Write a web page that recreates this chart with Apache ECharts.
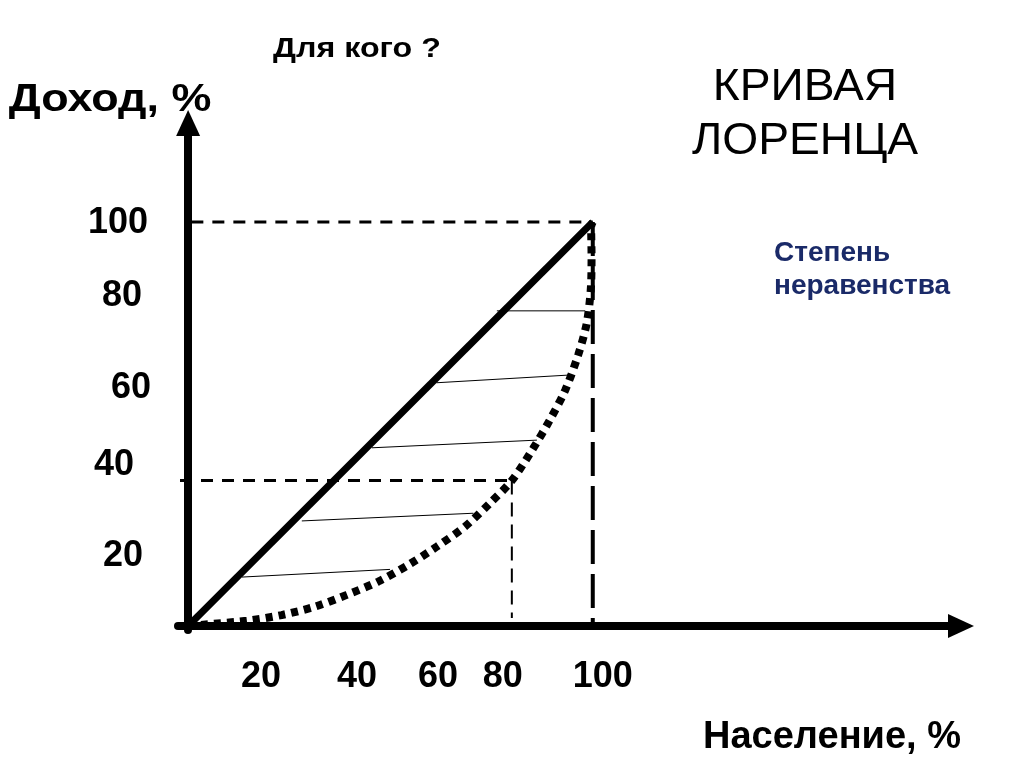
<!DOCTYPE html>
<html>
<head>
<meta charset="utf-8">
<script src="https://cdn.jsdelivr.net/npm/echarts@6/dist/echarts.min.js"></script>
<style>
  html, body { margin: 0; padding: 0; background: #fff; }
  #lorenz_chart { width: 1024px; height: 767px; }
</style>
</head>
<body>
<div id="lorenz_chart"></div>
<script>
// кривая Лоренца: доля населения (x) и доля дохода (y), %
var curve_x = [0, 14.5, 23.1, 31.4, 39.2, 47.0, 54.4, 61.4, 68.4, 74.6, 80.0, 85.3, 89.4, 93.2, 96.4, 98.5, 99.5, 99.7, 99.6, 100]
var curve_y = [0, 1.3, 2.7, 4.8, 7.7, 11.0, 15.1, 19.6, 24.6, 30.4, 36.0, 44.0, 51.0, 58.4, 67.1, 74.9, 83.2, 91.4, 98.8, 100]

// линия абсолютного равенства
var equal_x = [0, 100]
var equal_y = [0, 100]

// штриховка между диагональю и кривой
var hatch_x1 = [13.3, 28.1, 45.4, 61.4, 76.3]
var hatch_y1 = [12.1, 26.0, 44.1, 60.2, 78.0]
var hatch_x2 = [49.9, 70.5, 86.2, 94.0, 98.1]
var hatch_y2 = [14.0, 27.9, 46.0, 62.1, 78.0]

// отмеченная точка: 80% населения получают 36% дохода
var mark_x = 80
var mark_y = 36

var x_ticks = [20, 40, 60, 80, 100]
var y_ticks = [20, 40, 60, 80, 100]

var FONT = '"Liberation Sans", Arial, sans-serif'

function pairs(xs, ys) {
  return xs.map(function(x, i) { return [x, ys[i]] })
}

// сдвиг подписи через padding (на слайде цифры стоят "от руки")
function shift_pad(dx, dy) {
  return [dy > 0 ? 2 * dy : 0, dx < 0 ? -2 * dx : 0, dy < 0 ? -2 * dy : 0, dx > 0 ? 2 * dx : 0]
}

var x_label_shift = { 20: [-8, 0], 40: [7, 0], 60: [7, 0], 80: [-9, 0], 100: [10, 0] }
var y_label_shift = { 20: [3, 11], 40: [-6, 1], 60: [11, 5], 80: [2, -7], 100: [-2, 1] }

function label_rich(shift) {
  var rich = {}
  Object.keys(shift).forEach(function(k) {
    rich['t' + k] = {
      fontSize: 36,
      fontWeight: 'bold',
      fontFamily: FONT,
      color: '#000',
      padding: shift_pad(shift[k][0], shift[k][1])
    }
  })
  return rich
}

function seg(data, width, type, z) {
  return {
    type: 'line',
    data: data,
    symbol: 'none',
    silent: true,
    animation: false,
    z: z,
    lineStyle: { color: '#000', width: width, type: type, cap: 'butt' }
  }
}

var series = []
// пунктирные направляющие
series.push(seg([[0.8, 100], [100, 100]], 3, [12, 9], 2))
series.push(seg([[-2, mark_y], [mark_x, mark_y]], 3, [12, 9], 2))
series.push(seg([[mark_x, mark_y], [mark_x, 2]], 2, [14, 8], 2))
series.push(seg([[100, 100], [100, 0]], 4, [34, 10], 2))
// штриховка
hatch_x1.forEach(function(x, i) {
  series.push(seg([[x, hatch_y1[i]], [hatch_x2[i], hatch_y2[i]]], 1, 'solid', 3))
})
// диагональ
series.push(seg(pairs(equal_x, equal_y), 7, 'solid', 4))
// кривая Лоренца
var curve = seg(pairs(curve_x, curve_y), 8, [7, 6], 5)
curve.smooth = 0.3
series.push(curve)

var option = {
  backgroundColor: '#fff',
  animation: false,
  grid: { left: 178, right: 63, top: 123, bottom: 137 },
  xAxis: {
    type: 'value',
    min: -2.5,
    max: 191,
    axisLine: {
      onZero: true,
      symbol: ['none', 'triangle'],
      symbolSize: [24, 26],
      lineStyle: { color: '#000', width: 8 }
    },
    axisTick: { show: false },
    splitLine: { show: false },
    axisLabel: {
      customValues: x_ticks,
      margin: 47,
      align: 'center',
      verticalAlign: 'middle',
      formatter: function(v) { return '{t' + v + '|' + v + '}' },
      rich: label_rich(x_label_shift)
    }
  },
  yAxis: {
    type: 'value',
    min: -1,
    max: 124.5,
    axisLine: {
      onZero: true,
      symbol: ['none', 'triangle'],
      symbolSize: [24, 26],
      lineStyle: { color: '#000', width: 8 }
    },
    axisTick: { show: false },
    splitLine: { show: false },
    axisLabel: {
      customValues: y_ticks,
      margin: 58,
      align: 'center',
      verticalAlign: 'middle',
      formatter: function(v) { return '{t' + v + '|' + v + '}' },
      rich: label_rich(y_label_shift)
    }
  },
  graphic: [
    {
      type: 'text', x: 357, y: 49, scaleX: 1.15,
      style: { text: 'Для кого ?', font: 'bold 28px ' + FONT, fill: '#000', textAlign: 'center', textVerticalAlign: 'middle' }
    },
    {
      type: 'text', x: 110, y: 100, scaleX: 1.15,
      style: { text: 'Доход, %', font: 'bold 39px ' + FONT, fill: '#000', textAlign: 'center', textVerticalAlign: 'middle' }
    },
    {
      type: 'text', x: 805, y: 115, scaleX: 1.05,
      style: { text: 'КРИВАЯ\nЛОРЕНЦА', font: '44px ' + FONT, lineHeight: 54, fill: '#000', textAlign: 'center', textVerticalAlign: 'middle' }
    },
    {
      type: 'text', x: 774, y: 270,
      style: { text: 'Степень\nнеравенства', font: 'bold 28px ' + FONT, lineHeight: 33, fill: '#1A2A68', textAlign: 'left', textVerticalAlign: 'middle' }
    },
    {
      type: 'text', x: 832, y: 738,
      style: { text: 'Население, %', font: 'bold 38px ' + FONT, fill: '#000', textAlign: 'center', textVerticalAlign: 'middle' }
    }
  ],
  series: series
}

var myChart = echarts.init(document.getElementById('lorenz_chart'))
myChart.setOption(option)
window.addEventListener('resize', function() {
  myChart.resize()
})
</script>
</body>
</html>
